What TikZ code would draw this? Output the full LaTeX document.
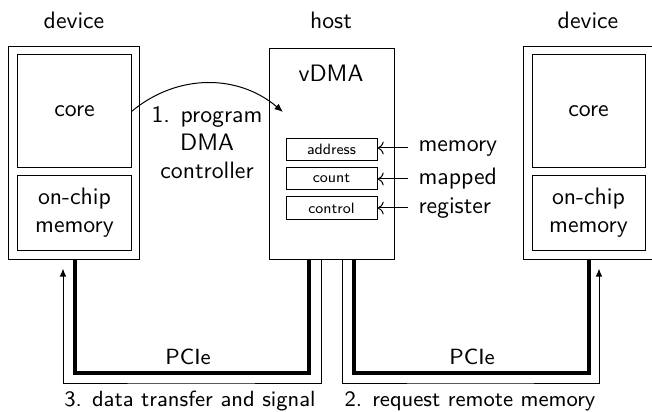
\documentclass[tikz,border=0pt]{standalone}
\usetikzlibrary{calc,arrows.meta}
\begin{document}
\begin{tikzpicture}[x=0.4pt,y=-0.4pt,
  every node/.style={font=\sffamily\fontsize{9.5}{11.2}\selectfont},
  box/.style={draw,line width=0.4pt,inner sep=0pt,align=center},
  reg/.style={draw,line width=0.4pt,inner sep=0pt,minimum width=36.4pt,minimum height=9pt,font=\sffamily\fontsize{6}{7}\selectfont},
  bus/.style={line width=1.6pt},
  sig/.style={line width=0.4pt,-{Latex[length=3.2pt,width=2.6pt]}},
  small/.style={font=\sffamily\fontsize{8.8}{10}\selectfont},
  lbl/.style={anchor=west,inner sep=0pt}]
\useasboundingbox (0,0) rectangle (652,412);
% top labels
\node (tdl) at (74,20) {device};
\node (th) at (331,20) {host};
\node (tdr) at (588,20) {device};
% left device
\node[box,minimum width=52pt,minimum height=84.8pt] (ldev) at (74,153) {};
\node[box,minimum width=45.2pt,minimum height=45.2pt] (lcore) at (74.5,111.5) {core};
\node[box,minimum width=45.2pt,minimum height=29.6pt] (lmem) at (74.5,213) {on-chip\\memory};
% right device
\node[box,minimum width=52pt,minimum height=84.8pt] (rdev) at (588,153) {};
\node[box,minimum width=45.2pt,minimum height=45.2pt] (rcore) at (588.5,111.5) {core};
\node[box,minimum width=45.2pt,minimum height=29.6pt] (rmem) at (588.5,213) {on-chip\\memory};
% host
\node[box,minimum width=50pt,minimum height=84pt] (host) at (331.5,154) {};
\node (vdma) at (331,73) {vDMA};
\node[reg] (addr) at (331.5,149.5) {address};
\node[reg] (cnt) at (331.5,178.5) {count};
\node[reg] (ctl) at (331.5,208) {control};
% memory mapped register labels
\node[lbl] (m1) at (418,148) {memory};
\node[lbl] (m2) at (418,179) {mapped};
\node[lbl] (m3) at (418,208) {register};
\draw[->,shorten <=4pt] (m1.west) -- (m1.west -| addr.east);
\draw[->,shorten <=4pt] (m2.west) -- (m2.west -| cnt.east);
\draw[->,shorten <=4pt] (m3.west) -- (m3.west -| ctl.east);
% program arc
\coordinate (vin) at (283,112);
\draw[-{Latex[length=3.4pt,width=2.8pt]}] (lcore.east) to[bend left=40] (vin);
\node[align=center] (prog) at (207,143) {1. program\\DMA\\controller};
% buses
\coordinate (bl) at (190,373);
\coordinate (br) at (470,373);
\draw[bus] ($(ldev.south)+(1,0)$) |- (bl) -| ($(host.south)+(-22.5,0)$);
\draw[bus] ($(host.south)+(22.5,0)$) |- (br) -| ($(rdev.south)+(1,0)$);
\coordinate (sl) at (190,383);
\coordinate (sr) at (470,383);
\coordinate (lend) at ($(ldev.south)+(-11,9)$);
\coordinate (rend) at ($(rdev.south)+(11,9)$);
\draw[sig] ($(host.south)+(-10.5,0)$) |- (sl) -| (lend);
\draw[sig] ($(host.south)+(10.5,0)$) |- (sr) -| (rend);
\node[small] (p1) at (188,357) {PCIe};
\node[small] (p2) at (472,357) {PCIe};
\node[small] (s3) at (190,401) {3. data transfer and signal};
\node[small] (s2) at (470,401) {2. request remote memory};
\end{tikzpicture}
\end{document}
